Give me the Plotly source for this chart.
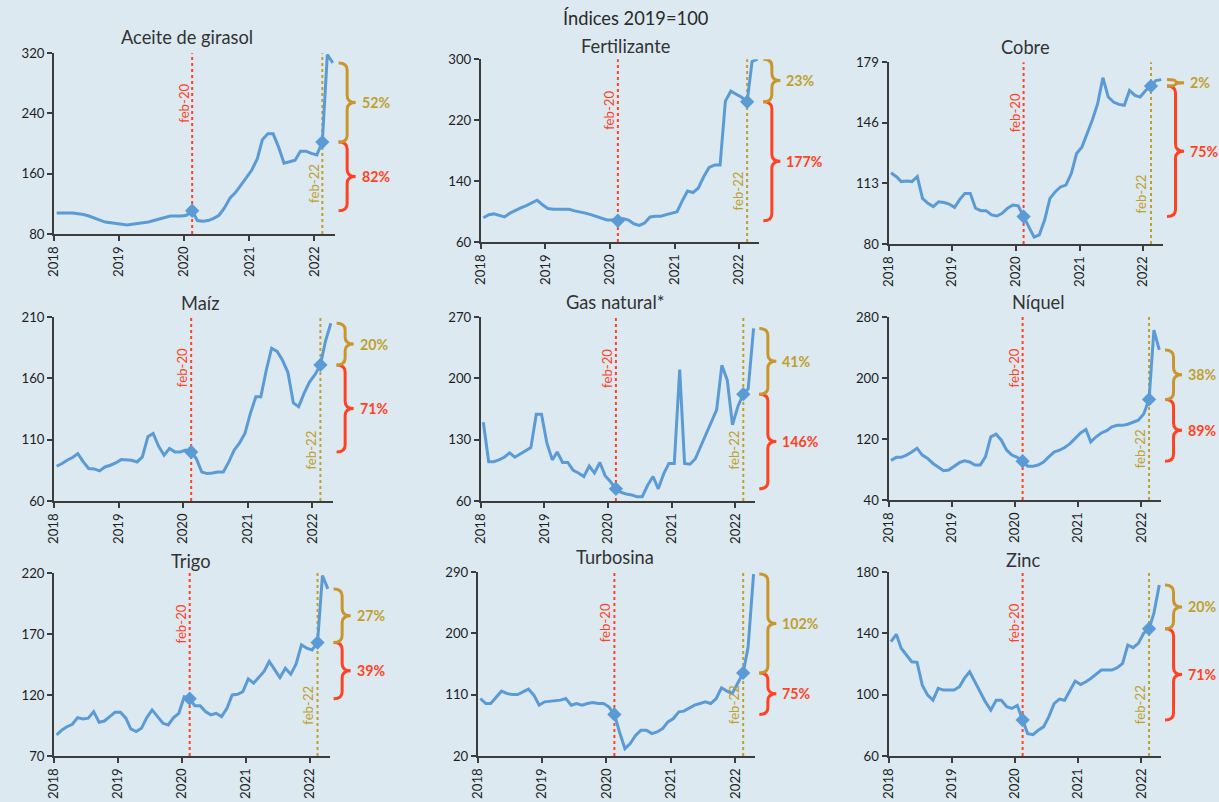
import pandas as pd
import plotly.graph_objects as go

# ---------------------------------------------------------------- data
months = pd.date_range("2018-01-01", "2022-04-01", freq="MS") + pd.Timedelta(days=14)
dates = [d.strftime("%Y-%m-%d") for d in months]
I_FEB20 = 25   # feb-2020
I_FEB22 = 49   # feb-2022

aceite = [108, 108, 108, 108, 107, 106, 104, 101, 98, 96, 95, 94,
          93, 92, 93, 94, 95, 96, 98, 100, 102, 104, 104, 104,
          105, 111, 98, 97, 98, 101, 105, 115, 128, 135, 145, 155,
          165, 180, 205, 213, 213, 195, 174, 176, 178, 190, 190, 187,
          185, 202, 318, 307]
fertilizante = [92, 96, 97, 95, 93, 98, 102, 105, 108, 111, 115, 109,
                104, 103, 103, 103, 103, 101, 100, 98, 96, 94, 91, 89,
                89, 88, 91, 89, 84, 82, 85, 93, 94, 94, 96, 98,
                100, 115, 127, 125, 131, 146, 158, 161, 161, 245, 258, 254,
                250, 244, 297, 300]
cobre = [118.8, 116.7, 114, 114.3, 114, 116.7, 104.9, 102.2, 100.4, 103, 102.6, 101.8,
         100, 104.4, 107.6, 107.6, 99.5, 98.2, 98.2, 95.9, 95.3, 96.8, 99.5, 101.3,
         100.8, 95, 89.6, 83.8, 85, 93.2, 104.9, 108.5, 111.2, 112.1, 118.5, 129.3,
         132.9, 140, 147.4, 156.4, 170.5, 160, 157.3, 156, 155.5, 163.6, 160.9, 160,
         163.6, 166, 169, 169.5]
maiz = [88.4, 90.6, 93.3, 95.5, 98.7, 91.9, 86.5, 86.2, 84.6, 87.8, 89.2, 91.1,
        93.8, 93.8, 93.3, 91.9, 96, 112.4, 115.1, 104.6, 97.4, 102.8, 100.1, 100.1,
        101.5, 100, 94.6, 83.7, 82.4, 82.9, 83.7, 83.7, 91.9, 101.5, 107.5, 115.1,
        131.5, 145, 145, 166.9, 184.6, 182, 175, 165, 140, 137, 148, 157,
        163, 171, 190, 205]
gas_natural = [150, 105, 105, 107, 110, 115, 110, 114, 118, 121, 159, 159,
               126, 107, 116, 104, 104, 95, 92, 88, 100, 92, 104, 89,
               82, 74, 70, 68, 67, 65, 65, 78, 88, 74, 91, 103,
               103, 210, 103, 102, 108, 122, 137, 151, 164, 215, 198, 147,
               168, 182, 188, 257]
niquel = [92, 96, 96, 99, 103, 108, 99, 94.5, 88, 83, 78.4, 79.3,
          83.6, 89, 91.5, 90, 86, 86, 96.7, 123, 126.4, 118.5, 105.4, 99,
          96, 91, 84.5, 84.5, 86, 90, 96.7, 103, 105.4, 109, 114, 120.7,
          128, 132.5, 116.3, 123, 128, 131, 136, 138, 138, 139.5, 142.5, 144.7,
          153, 172, 263, 237]
trigo = [87.3, 91.4, 94, 96, 101.5, 100.4, 101, 106.4, 97.7, 98.7, 102.3, 105.9,
         105.9, 101, 92.2, 90, 92.7, 101.5, 107.8, 102.3, 96.8, 95.5, 101.5, 105,
         118.7, 117, 111.3, 111.3, 106.4, 103.7, 105, 102.3, 109.2, 120.1, 120.6, 122.8,
         133.2, 129.7, 134.3, 139.3, 147.5, 140.6, 134.3, 142, 137.1, 145.3, 161.2, 158.4,
         157, 163, 218, 207]
turbosina = [104.4, 97, 97, 106.9, 115.2, 111.8, 110.3, 110.3, 114.3, 118.2, 109.3, 94.6,
             99.5, 100.5, 100.5, 102, 104.4, 94.6, 97, 94.6, 97, 98.5, 97, 97,
             92.2, 81, 55.3, 30.8, 38.2, 50.4, 57.8, 57.8, 52.9, 55.3, 60.3, 70.1,
             75, 84.8, 85.8, 89.7, 94.6, 97, 99.5, 97, 104.4, 120.1, 115.2, 111.8,
             126.5, 142, 180, 287]
zinc = [134.6, 139.4, 130.3, 125.9, 121.5, 121.1, 106.2, 99.7, 96.4, 104.1, 103, 103,
        103, 105.2, 110.6, 115, 108.4, 101.9, 95.3, 89.9, 96.4, 96.4, 92.1, 91,
        93, 83.5, 74.6, 74, 76.8, 79, 85.5, 94.2, 97.1, 96.4, 103, 108.9,
        106.7, 108.4, 110.6, 113.2, 116.1, 116.1, 116.1, 117.6, 120.4, 132.4, 130.7, 133.5,
        140.1, 143, 153.2, 171.5]

titles = ["Aceite de girasol", "Fertilizante", "Cobre",
          "Maíz", "Gas natural*", "Níquel",
          "Trigo", "Turbosina", "Zinc"]
series = [aceite, fertilizante, cobre, maiz, gas_natural, niquel, trigo, turbosina, zinc]
chg_feb20_feb22 = ["82%", "177%", "75%", "71%", "146%", "89%", "39%", "75%", "71%"]
chg_since_feb22 = ["52%", "23%", "2%", "20%", "41%", "38%", "27%", "102%", "20%"]
y_ranges = [(80, 320), (60, 300), (80, 179), (60, 210), (60, 270),
            (40, 280), (70, 220), (20, 290), (60, 180)]
y_ticks = [[80, 160, 240, 320], [60, 140, 220, 300], [80, 113, 146, 179],
           [60, 110, 160, 210], [60, 130, 200, 270], [40, 120, 200, 280],
           [70, 120, 170, 220], [20, 110, 200, 290], [60, 100, 140, 180]]
year_labels = ["2018", "2019", "2020", "2021", "2022"]
year_ticks = [f"{y}-01-01" for y in year_labels]

# ---------------------------------------------------------------- geometry
# Positions below are screen pixels of the final view.  The page keeps its
# default 8px body margin and is shown slightly scaled into the window, so
# screen pixels are converted to figure (paper) coordinates here.
BODY = 8
SX, SY = 0.991, 802 / 818
W, H = 1227, 810
FS = 1.015                       # text size compensation for the page scale

# plot box: left, right, top, bottom
boxes = [(53, 333, 53, 234), (479, 757, 59, 242), (886, 1160, 62, 244),
         (53, 331, 317, 501), (479, 753, 317, 501), (886, 1158, 317, 500),
         (53, 328, 573, 756), (476, 753, 572, 756), (886, 1158, 572, 756)]
# title centre
title_pos = [(186, 37), (623, 46), (1023, 47),
             (199, 303), (613, 302), (1036, 302),
             (190, 561), (613, 557), (1021, 560)]

BG = "#dce9f1"
BLUE = "#5b9bd5"
RED = "#ff4322"
GOLD = "#c9962b"
GOLD_TXT = "#bfa02c"
AXIS = "#3c3c3c"
TXT = "#1e1e1e"
FONT = "Lato"

X_RANGE = ["2018-01-01", "2022-04-25"]


def px_x(v):
    return (v / SX - BODY) / W


def px_y(v):
    return 1 - (v / SY - BODY) / H


def px_w(v):
    return v / SX / W


def fsize(v):
    return round(v * FS, 2)


def brace_path(xl, w, y_lo, y_hi, r):
    xm = xl + w / 2
    x1 = xl + w
    ym = (y_lo + y_hi) / 2
    return (f"M {xl},{y_hi} Q {xm},{y_hi} {xm},{y_hi - r} "
            f"L {xm},{ym + r} Q {xm},{ym} {x1},{ym} "
            f"Q {xm},{ym} {xm},{ym - r} L {xm},{y_lo + r} "
            f"Q {xm},{y_lo} {xl},{y_lo}")


fig = go.Figure()
shapes = []
annotations = []
layout_axes = {}

for k in range(9):
    n = "" if k == 0 else str(k + 1)
    xa, ya = "x" + n, "y" + n
    s = series[k]
    left, right, top, bottom = boxes[k]
    y0, y1 = y_ranges[k]

    fig.add_trace(go.Scatter(x=dates, y=s, mode="lines", xaxis=xa, yaxis=ya,
                             line=dict(color=BLUE, width=3), showlegend=False,
                             hoverinfo="x+y"))
    fig.add_trace(go.Scatter(x=[dates[I_FEB20], dates[I_FEB22]],
                             y=[s[I_FEB20], s[I_FEB22]], mode="markers",
                             xaxis=xa, yaxis=ya, showlegend=False,
                             marker=dict(symbol="diamond", size=11, color=BLUE)))

    layout_axes["xaxis" + n] = dict(
        domain=[px_x(left), px_x(right)], anchor=ya, type="date", range=X_RANGE,
        tickvals=year_ticks, ticktext=year_labels, tickangle=-90,
        ticks="outside", ticklen=5, tickwidth=1.5, tickcolor=AXIS,
        showline=True, linecolor=AXIS, linewidth=2, showgrid=False, zeroline=False,
        tickfont=dict(size=fsize(13), color=TXT, family=FONT), fixedrange=True)
    layout_axes["yaxis" + n] = dict(
        domain=[px_y(bottom), px_y(top)], anchor=xa, range=[y0, y1],
        tickvals=y_ticks[k], ticks="outside", ticklen=5, tickwidth=1.5, tickcolor=AXIS,
        showline=True, linecolor=AXIS, linewidth=2, showgrid=False, zeroline=False,
        tickfont=dict(size=fsize(13), color=TXT, family=FONT), fixedrange=True)

    # reference dates
    for idx, col, ypos, label in [(I_FEB20, RED, 0.84, "feb-20"),
                                  (I_FEB22, GOLD_TXT, 0.16, "feb-22")]:
        shapes.append(dict(type="line", xref=xa, yref=ya + " domain",
                           x0=dates[idx], x1=dates[idx], y0=0, y1=1, layer="below",
                           line=dict(color=col, width=2, dash="dot")))
        annotations.append(dict(xref=xa, yref=ya + " domain", x=dates[idx], y=ypos,
                                text=label, showarrow=False, textangle=-90,
                                xshift=-9, font=dict(size=fsize(13), color=col, family=FONT)))

    # braces with the change between reference dates
    scale = (y1 - y0) / (bottom - top)
    xl = px_x(right + 4)
    bw = px_w(17)
    segments = [(s[I_FEB20], s[I_FEB22], RED, RED, chg_feb20_feb22[k]),
                (s[I_FEB22], s[-1], GOLD, GOLD_TXT, chg_since_feb22[k])]
    for lo, hi, col, tcol, txt in segments:
        r = min(7 * scale, (hi - lo) / 4)
        shapes.append(dict(type="path", xref="paper", yref=ya,
                           path=brace_path(xl, bw, lo, hi, r),
                           line=dict(color=col, width=3), layer="above"))
        annotations.append(dict(xref="paper", yref=ya, x=xl + bw + px_w(4),
                                y=(lo + hi) / 2, xanchor="left", yanchor="middle",
                                text=f"<b>{txt}</b>", showarrow=False,
                                font=dict(size=fsize(14), color=tcol, family=FONT)))

    tx, ty = title_pos[k]
    annotations.append(dict(xref="paper", yref="paper", x=px_x(tx), y=px_y(ty),
                            text=titles[k], showarrow=False, xanchor="center",
                            yanchor="middle",
                            font=dict(size=fsize(18), color="#333333", family=FONT)))

annotations.append(dict(xref="paper", yref="paper", x=px_x(634), y=px_y(18),
                        text="Índices 2019=100", showarrow=False, xanchor="center",
                        yanchor="middle",
                        font=dict(size=fsize(18), color="#2a2a2a", family=FONT)))

fig.update_layout(
    width=W, height=H, margin=dict(l=0, r=0, t=0, b=0),
    paper_bgcolor=BG, plot_bgcolor=BG,
    font=dict(family=FONT, color=TXT),
    shapes=shapes, annotations=annotations, showlegend=False,
    **layout_axes)

# page background in the figure colour so the body margin blends in
fig.write_html("out.html",
               post_script=f"document.body.style.background='{BG}';")
